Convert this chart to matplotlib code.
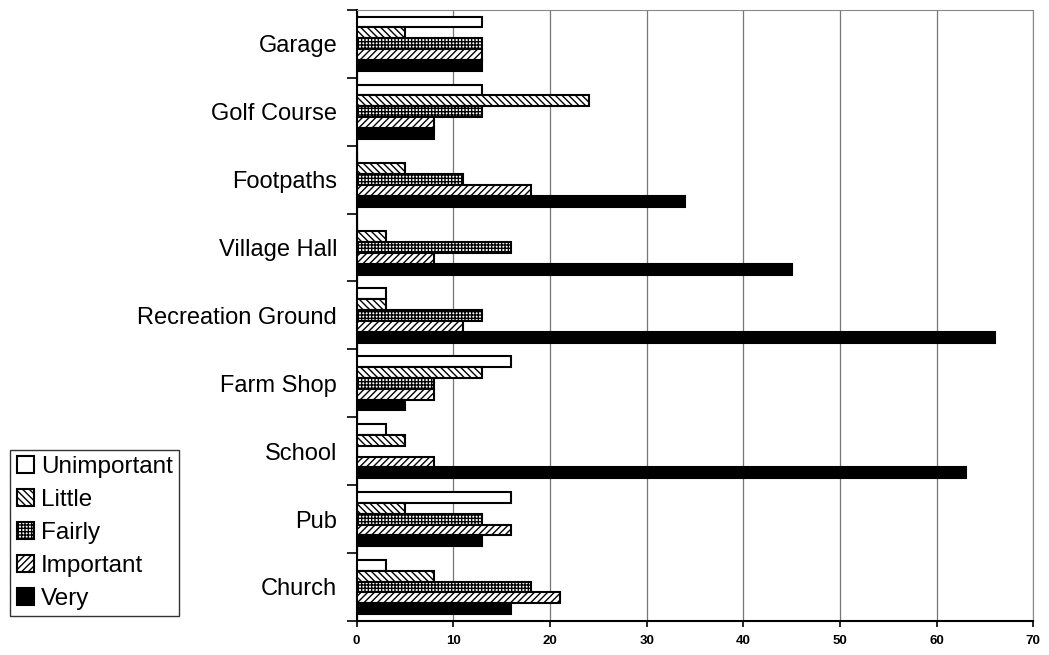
import numpy as np
import matplotlib.pyplot as plt

plt.rcParams['font.family'] = ['Liberation Sans', 'DejaVu Sans']
plt.rcParams['hatch.linewidth'] = 1.0

# categories listed top to bottom as in the chart
places = ["Garage", "Golf Course", "Footpaths", "Village Hall", "Recreation Ground",
          "Farm Shop", "School", "Pub", "Church"]
unimportant = [13, 13, 0, 0, 3, 16, 3, 16, 3]
little = [5, 24, 5, 3, 3, 13, 5, 5, 8]
fairly = [13, 13, 11, 16, 13, 8, 0, 13, 18]
important = [13, 8, 18, 8, 11, 8, 8, 16, 21]
very = [13, 8, 34, 45, 66, 5, 63, 13, 16]

series = [("Unimportant", unimportant, "white", None),
          ("Little", little, "white", "\\\\\\\\\\"),
          ("Fairly", fairly, "white", "+++++"),
          ("Important", important, "white", "/////"),
          ("Very", very, "black", None)]

fig = plt.figure(figsize=(10.49, 6.55), dpi=100)
ax = fig.add_axes([0.340, 0.052, 0.645, 0.933])

n = len(places)
ypos = np.arange(n)[::-1]  # Garage at top
h = 0.16
for i, (name, vals, col, hatch) in enumerate(series):
    off = (2 - i) * h
    ax.barh(ypos + off, vals, height=h, color=col, edgecolor="black",
            linewidth=1.5, hatch=hatch, label=name, zorder=3)

ax.set_xlim(0, 70)
ax.set_ylim(-0.5, n - 0.5)
ax.set_xticks(np.arange(0, 71, 10))
ax.tick_params(axis="x", labelsize=9.5, length=4, width=1.2, pad=6)
for t in ax.get_xticklabels():
    t.set_fontweight("bold")
ax.grid(axis="x", color="#777777", linewidth=0.9, zorder=0)

ax.set_yticks(ypos)
ax.set_yticklabels(places, fontsize=17)
ax.tick_params(axis="y", length=0, pad=14)
ax.set_yticks(np.arange(-0.5, n, 1.0), minor=True)
ax.tick_params(axis="y", which="minor", length=7, width=1.2)

for s in ["top", "right"]:
    ax.spines[s].set_color("#888888")
    ax.spines[s].set_linestyle((0, (1, 1)))
for s in ["left", "bottom"]:
    ax.spines[s].set_linewidth(1.5)

handles, labels = ax.get_legend_handles_labels()
fig.legend(handles, labels, loc="lower left", bbox_to_anchor=(0.010, 0.060),
           fontsize=17.5, frameon=True, fancybox=False, edgecolor="black",
           handlelength=0.7, handleheight=0.7, handletextpad=0.3,
           labelspacing=0.45, borderpad=0.25, borderaxespad=0.0)

fig.savefig("out.png")
